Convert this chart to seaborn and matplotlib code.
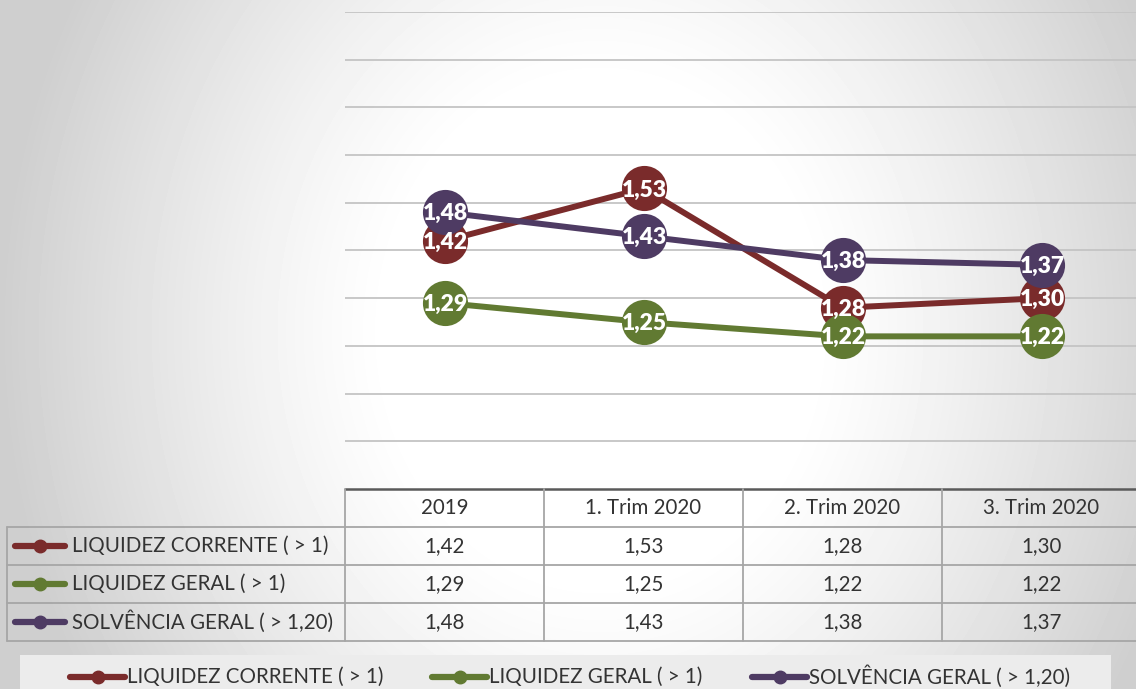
import numpy as np
import pandas as pd
import matplotlib.pyplot as plt
import seaborn as sns
from matplotlib.patches import Rectangle

# --- data ---
periods = ['2019', '1. Trim 2020', '2. Trim 2020', '3. Trim 2020']
series_names = ['LIQUIDEZ CORRENTE ( > 1)', 'LIQUIDEZ GERAL ( > 1)', 'SOLVÊNCIA GERAL ( > 1,20)']
liquidez_corrente = [1.42, 1.53, 1.28, 1.30]
liquidez_geral = [1.29, 1.25, 1.22, 1.22]
solvencia_geral = [1.48, 1.43, 1.38, 1.37]
colors = ['#7a2b2b', '#617a32', '#4e3b63']

values = [liquidez_corrente, liquidez_geral, solvencia_geral]
df = pd.DataFrame([
    {'periodo': p, 'serie': s, 'valor': v}
    for s, vals in zip(series_names, values)
    for p, v in zip(periods, vals)
])

def fmt(v):
    return f'{v:.2f}'.replace('.', ',')

sns.set_theme(style='white')
plt.rcParams['font.family'] = ['Lato', 'DejaVu Sans']

W, H = 1136, 689
fig = plt.figure(figsize=(W / 100, H / 100), dpi=100)

# background: soft radial gradient, white in the middle, grey at the edges
bg = fig.add_axes([0, 0, 1, 1], zorder=0)
yy, xx = np.mgrid[0:H, 0:W]
r = np.sqrt(((xx - 600) / 600) ** 2 + ((yy - 330) / 700) ** 2)
shade = 1 - 0.19 * np.clip((r - 0.35) / 0.65, 0, 1) ** 1.2
bg.imshow(shade, cmap='gray', vmin=0, vmax=1, extent=[0, W, H, 0], aspect='auto')
bg.set_xlim(0, W)
bg.set_ylim(H, 0)
bg.axis('off')

# main chart
ax = fig.add_axes([345 / W, (H - 489) / H, 796 / W, 477 / H], zorder=2)
ax.patch.set_alpha(0)
ax.set_yticks(np.arange(1.0, 1.95, 0.1))
ax.grid(axis='y', color='#c4c4c4', lw=1.3)
ax.grid(axis='x', visible=False)
sns.lineplot(data=df, x='periodo', y='valor', hue='serie', palette=colors,
             marker='o', markersize=32.5, markeredgewidth=0, linewidth=4.3,
             sort=False, legend=False, ax=ax)
for vals in values:
    for i, v in enumerate(vals):
        ax.text(i + 0.005, v - 0.003, fmt(v), color='white', fontsize=16.5,
                fontweight='heavy', ha='center', va='center', zorder=10)
ax.set_xlim(-0.5, 3.5)
ax.set_ylim(0.9, 1.9)
ax.set_xlabel('')
ax.set_ylabel('')
ax.set_xticks([])
ax.set_yticklabels([])
ax.tick_params(length=0)
sns.despine(ax=ax, left=True, bottom=True, right=True, top=True)

# data table + legend overlay (pixel coordinates)
ov = fig.add_axes([0, 0, 1, 1], zorder=3)
ov.set_xlim(0, W)
ov.set_ylim(H, 0)
ov.axis('off')
ov.patch.set_alpha(0)

grid_c = '#a6a6a6'
col_edges = [345, 544, 743, 942, 1141]
row_edges = [489, 527, 565, 603, 641]
ov.plot([345, W], [489, 489], color='#5a5a5a', lw=1.8)
for x in col_edges[:-1]:
    ov.plot([x, x], [489, 641], color=grid_c, lw=1.3)
ov.plot([7, 7], [527, 641], color=grid_c, lw=1.3)
for y in row_edges[1:]:
    ov.plot([7, W], [y, y], color=grid_c, lw=1.3)

txt_size = 14.8
txt_c = '#333333'
for j, p in enumerate(periods):
    cx = (col_edges[j] + col_edges[j + 1]) / 2
    ov.text(cx, 508, p, ha='center', va='center', fontsize=txt_size, color=txt_c)
for k, (name, vals, c) in enumerate(zip(series_names, values, colors)):
    cy = (row_edges[k + 1] + row_edges[k + 2]) / 2
    ov.plot([15, 65], [cy, cy], color=c, lw=4.5, solid_capstyle='round')
    ov.plot([40], [cy], 'o', color=c, ms=9)
    ov.text(72, cy, name, ha='left', va='center', fontsize=txt_size, color=txt_c)
    for j, v in enumerate(vals):
        cx = (col_edges[j] + col_edges[j + 1]) / 2
        ov.text(cx, cy, fmt(v), ha='center', va='center', fontsize=txt_size, color=txt_c)

# bottom legend
ov.add_patch(Rectangle((20, 655), 1091, 40, facecolor='#ececec', edgecolor='none'))
for x0, name, c in zip([70, 432, 752], series_names, colors):
    ov.plot([x0, x0 + 55], [677, 677], color=c, lw=4.5, solid_capstyle='round')
    ov.plot([x0 + 27.5], [677], 'o', color=c, ms=9)
    ov.text(x0 + 57, 677, name, ha='left', va='center', fontsize=txt_size, color=txt_c)

fig.savefig('out.png', dpi=100)
